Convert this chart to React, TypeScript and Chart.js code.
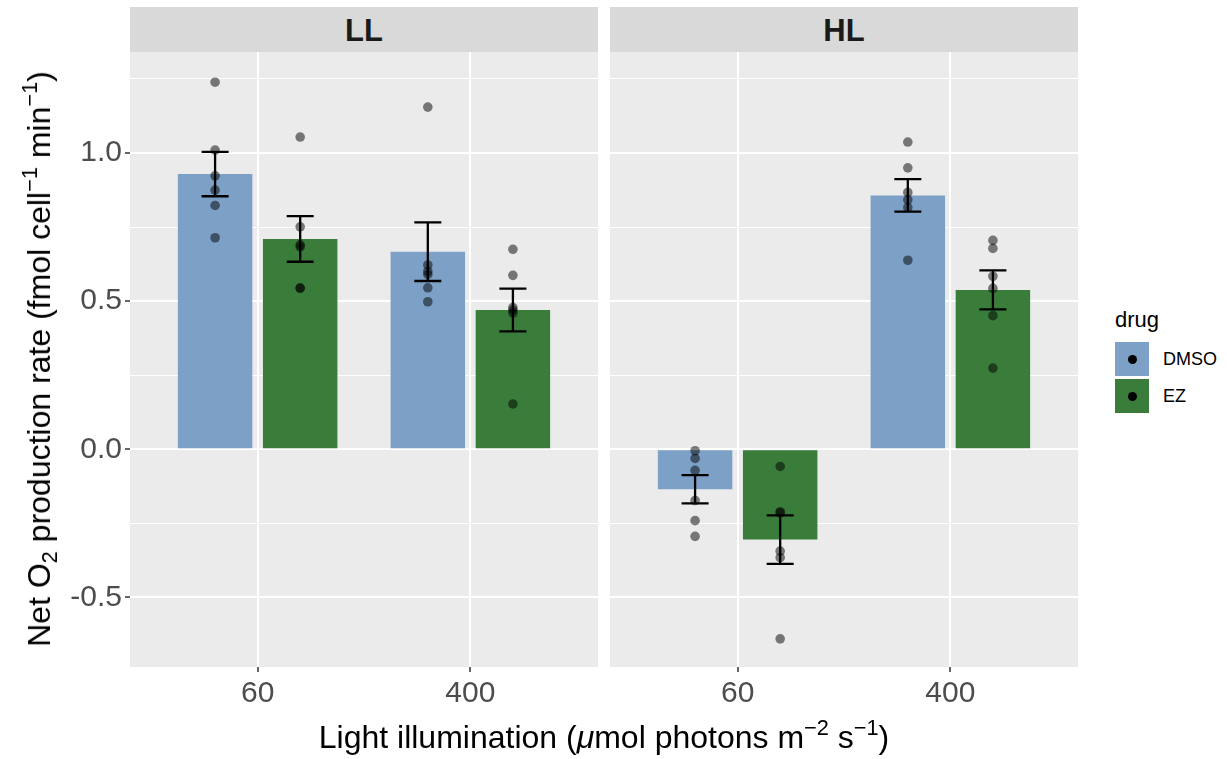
import React, { useEffect, useRef } from 'react';
import { Chart, registerables } from 'chart.js';

Chart.register(...registerables);

// ---------------- data ----------------
const categories = ['60', '400'];
const categoryPositions = [1, 2];
const facets = ['LL', 'HL'];
const drugs = ['DMSO', 'EZ'];
const drugColors = ['#7DA0C7', '#3A7D3A'];

// bar heights (mean) per drug, per light level
const llDmsoMean = [0.929, 0.667];
const llEzMean = [0.71, 0.47];
const hlDmsoMean = [-0.135, 0.857];
const hlEzMean = [-0.305, 0.538];

// standard errors
const llDmsoSe = [0.075, 0.099];
const llEzSe = [0.077, 0.072];
const hlDmsoSe = [0.048, 0.055];
const hlEzSe = [0.082, 0.066];

// individual replicates
const llDmsoPoints = [
  [1.239, 1.01, 0.923, 0.875, 0.823, 0.714],
  [1.155, 0.622, 0.6, 0.59, 0.545, 0.498],
];
const llEzPoints = [
  [1.054, 0.751, 0.683, 0.69, 0.543, 0.545],
  [0.675, 0.587, 0.478, 0.47, 0.46, 0.153],
];
const hlDmsoPoints = [
  [-0.005, -0.031, -0.071, -0.173, -0.241, -0.294],
  [1.037, 0.95, 0.867, 0.842, 0.816, 0.638],
];
const hlEzPoints = [
  [-0.058, -0.211, -0.215, -0.344, -0.366, -0.64],
  [0.705, 0.678, 0.584, 0.543, 0.451, 0.274],
];

const yMajorTicks = [-0.5, 0, 0.5, 1.0];
const yMinorTicks = [-0.25, 0.25, 0.75, 1.25];
const yRange = [-0.735, 1.341];
const xRange = [0.4, 2.6];

// ---------------- layout constants ----------------
const FONT = '"Liberation Sans", Arial, Helvetica, sans-serif';
const DODGE = [-0.2, 0.2];
const CAP_WIDTH = 0.127;
const PANEL_TOP = 52;
const X_AXIS_H = 92;
const CANVAS_H = 759;

const isMajor = (v: number) => yMajorTicks.some((m) => Math.abs(m - v) < 1e-9);

const panelBg = {
  id: 'panelBg',
  beforeDraw(chart: any) {
    const { ctx, chartArea: a } = chart;
    ctx.save();
    ctx.fillStyle = '#EBEBEB';
    ctx.fillRect(a.left, a.top, a.right - a.left, a.bottom - a.top);
    ctx.restore();
  },
};

const errorBars = {
  id: 'errorBars',
  afterDatasetDraw(chart: any, args: any) {
    const ds: any = chart.data.datasets[args.index];
    if (!ds.se) return;
    const ys = chart.scales.y;
    const xs = chart.scales.x;
    const half = (xs.getPixelForValue(1 + CAP_WIDTH) - xs.getPixelForValue(1)) / 2;
    const ctx = chart.ctx;
    ctx.save();
    ctx.strokeStyle = '#000000';
    ctx.lineWidth = 2.3;
    args.meta.data.forEach((el: any, j: number) => {
      const m = ds.data[j].y;
      const top = ys.getPixelForValue(m + ds.se[j]);
      const bot = ys.getPixelForValue(m - ds.se[j]);
      const x = el.x;
      ctx.beginPath();
      ctx.moveTo(x, top);
      ctx.lineTo(x, bot);
      ctx.moveTo(x - half, top);
      ctx.lineTo(x + half, top);
      ctx.moveTo(x - half, bot);
      ctx.lineTo(x + half, bot);
      ctx.stroke();
    });
    ctx.restore();
  },
};

function buildConfig(means: number[][], ses: number[][], points: number[][][], showY: boolean): any {
  const datasets: any[] = [];
  drugs.forEach((d, di) => {
    const pts: { x: number; y: number }[] = [];
    categoryPositions.forEach((cx, ci) => {
      points[di][ci].forEach((v) => pts.push({ x: cx + DODGE[di], y: v }));
    });
    datasets.push({
      type: 'scatter',
      label: d + ' points',
      data: pts,
      pointRadius: 4.8,
      pointBackgroundColor: 'rgba(0,0,0,0.5)',
      pointBorderWidth: 0,
      pointBorderColor: 'rgba(0,0,0,0)',
    });
  });
  drugs.forEach((d, di) => {
    datasets.push({
      type: 'bar',
      label: d,
      data: categoryPositions.map((cx, ci) => ({ x: cx, y: means[di][ci] })),
      se: ses[di],
      backgroundColor: drugColors[di],
      borderWidth: 0,
      categoryPercentage: 0.8,
      barPercentage: 0.875,
    });
  });

  return {
    type: 'bar',
    data: { datasets },
    plugins: [panelBg, errorBars],
    options: {
      animation: false,
      responsive: false,
      events: [],
      layout: { autoPadding: false, padding: { top: PANEL_TOP, left: 0, right: 0, bottom: 0 } },
      plugins: { legend: { display: false }, tooltip: { enabled: false } },
      scales: {
        x: {
          type: 'linear',
          offset: false,
          min: xRange[0],
          max: xRange[1],
          afterBuildTicks: (s: any) => {
            s.ticks = categoryPositions.map((v) => ({ value: v }));
          },
          afterFit: (s: any) => {
            s.height = X_AXIS_H;
            s.paddingLeft = 0;
            s.paddingRight = 0;
          },
          ticks: {
            autoSkip: false,
            maxRotation: 0,
            padding: 4,
            color: '#4D4D4D',
            font: { family: FONT, size: 30 },
            callback: (_v: any, i: number) => categories[i],
          },
          grid: {
            offset: false,
            color: '#FFFFFF',
            lineWidth: 2,
            drawTicks: true,
            tickLength: 5,
            tickColor: '#333333',
            tickWidth: 1.5,
          },
          border: { display: false },
        },
        y: {
          type: 'linear',
          offset: false,
          min: yRange[0],
          max: yRange[1],
          afterBuildTicks: (s: any) => {
            s.ticks = [...yMajorTicks, ...yMinorTicks].sort((a, b) => a - b).map((v) => ({ value: v }));
          },
          afterFit: (s: any) => {
            s.width = showY ? 130 : 0;
          },
          ticks: {
            display: showY,
            autoSkip: false,
            padding: 3,
            color: '#4D4D4D',
            font: { family: FONT, size: 30 },
            callback: (v: any) => (isMajor(v) ? Number(v).toFixed(1) : ''),
          },
          grid: {
            offset: false,
            color: '#FFFFFF',
            lineWidth: (c: any) => (c.tick && isMajor(c.tick.value) ? 2 : 1),
            drawTicks: showY,
            tickLength: 5,
            tickColor: (c: any) => (c.tick && isMajor(c.tick.value) ? '#333333' : 'rgba(0,0,0,0)'),
            tickWidth: 1.5,
          },
          border: { display: false },
        },
      },
    },
  };
}

function Panel({ facet, left, width }: { facet: number; left: number; width: number }) {
  const ref = useRef<HTMLCanvasElement>(null);
  useEffect(() => {
    const cfg =
      facet === 0
        ? buildConfig([llDmsoMean, llEzMean], [llDmsoSe, llEzSe], [llDmsoPoints, llEzPoints], true)
        : buildConfig([hlDmsoMean, hlEzMean], [hlDmsoSe, hlEzSe], [hlDmsoPoints, hlEzPoints], false);
    const chart = new Chart(ref.current as HTMLCanvasElement, cfg);
    return () => chart.destroy();
  }, [facet]);
  return (
    <canvas
      ref={ref}
      width={width}
      height={CANVAS_H}
      style={{ position: 'absolute', left, top: 0, width, height: CANVAS_H }}
    />
  );
}

const supStyle: React.CSSProperties = { fontSize: '0.68em', position: 'relative', top: '-0.6em', verticalAlign: 'baseline', lineHeight: 0 };
const subStyle: React.CSSProperties = { fontSize: '0.68em', position: 'relative', top: '0.3em', verticalAlign: 'baseline', lineHeight: 0 };

export default function App() {
  const panels = [
    { left: 130, width: 468 },
    { left: 610, width: 468 },
  ];
  return (
    <div
      style={{
        position: 'absolute',
        left: 0,
        top: 0,
        width: 1227,
        height: 759,
        background: '#FFFFFF',
        fontFamily: FONT,
        overflow: 'hidden',
      }}
    >
      <Panel facet={0} left={0} width={598} />
      <Panel facet={1} left={610} width={468} />

      {facets.map((f, i) => (
        <div
          key={f}
          style={{
            position: 'absolute',
            left: panels[i].left,
            top: 7,
            width: panels[i].width,
            height: 45,
            background: '#D9D9D9',
            display: 'flex',
            alignItems: 'center',
            justifyContent: 'center',
            fontWeight: 'bold',
            fontSize: 31,
            color: '#1A1A1A',
            lineHeight: 1,
            paddingTop: 2,
            boxSizing: 'border-box',
          }}
        >
          {f}
        </div>
      ))}

      <div
        style={{
          position: 'absolute',
          left: 39,
          top: 359,
          transform: 'translate(-50%, -50%) rotate(-90deg)',
          whiteSpace: 'nowrap',
          fontSize: 32,
          lineHeight: 1,
          color: '#000000',
        }}
      >
        Net O<span style={subStyle}>2</span> production rate (fmol cell<span style={supStyle}>−1</span> min
        <span style={supStyle}>−1</span>)
      </div>

      <div
        style={{
          position: 'absolute',
          left: 604,
          top: 737,
          transform: 'translate(-50%, -50%)',
          whiteSpace: 'nowrap',
          fontSize: 32,
          lineHeight: 1,
          color: '#000000',
        }}
      >
        Light illumination (<i>μ</i>mol photons m<span style={supStyle}>−2</span> s<span style={supStyle}>−1</span>)
      </div>

      <div style={{ position: 'absolute', left: 1115, top: 309, fontSize: 22, lineHeight: 1, color: '#000000' }}>drug</div>
      {drugs.map((d, i) => (
        <React.Fragment key={d}>
          <div
            style={{
              position: 'absolute',
              left: 1115,
              top: 342 + i * 37,
              width: 34,
              height: 34,
              background: drugColors[i],
            }}
          >
            <div
              style={{
                position: 'absolute',
                left: 12.5,
                top: 12.5,
                width: 9,
                height: 9,
                borderRadius: '50%',
                background: '#000000',
              }}
            />
          </div>
          <div
            style={{
              position: 'absolute',
              left: 1163,
              top: 359 + i * 37,
              transform: 'translateY(-50%)',
              fontSize: 18,
              lineHeight: 1,
              color: '#000000',
            }}
          >
            {d}
          </div>
        </React.Fragment>
      ))}
    </div>
  );
}
